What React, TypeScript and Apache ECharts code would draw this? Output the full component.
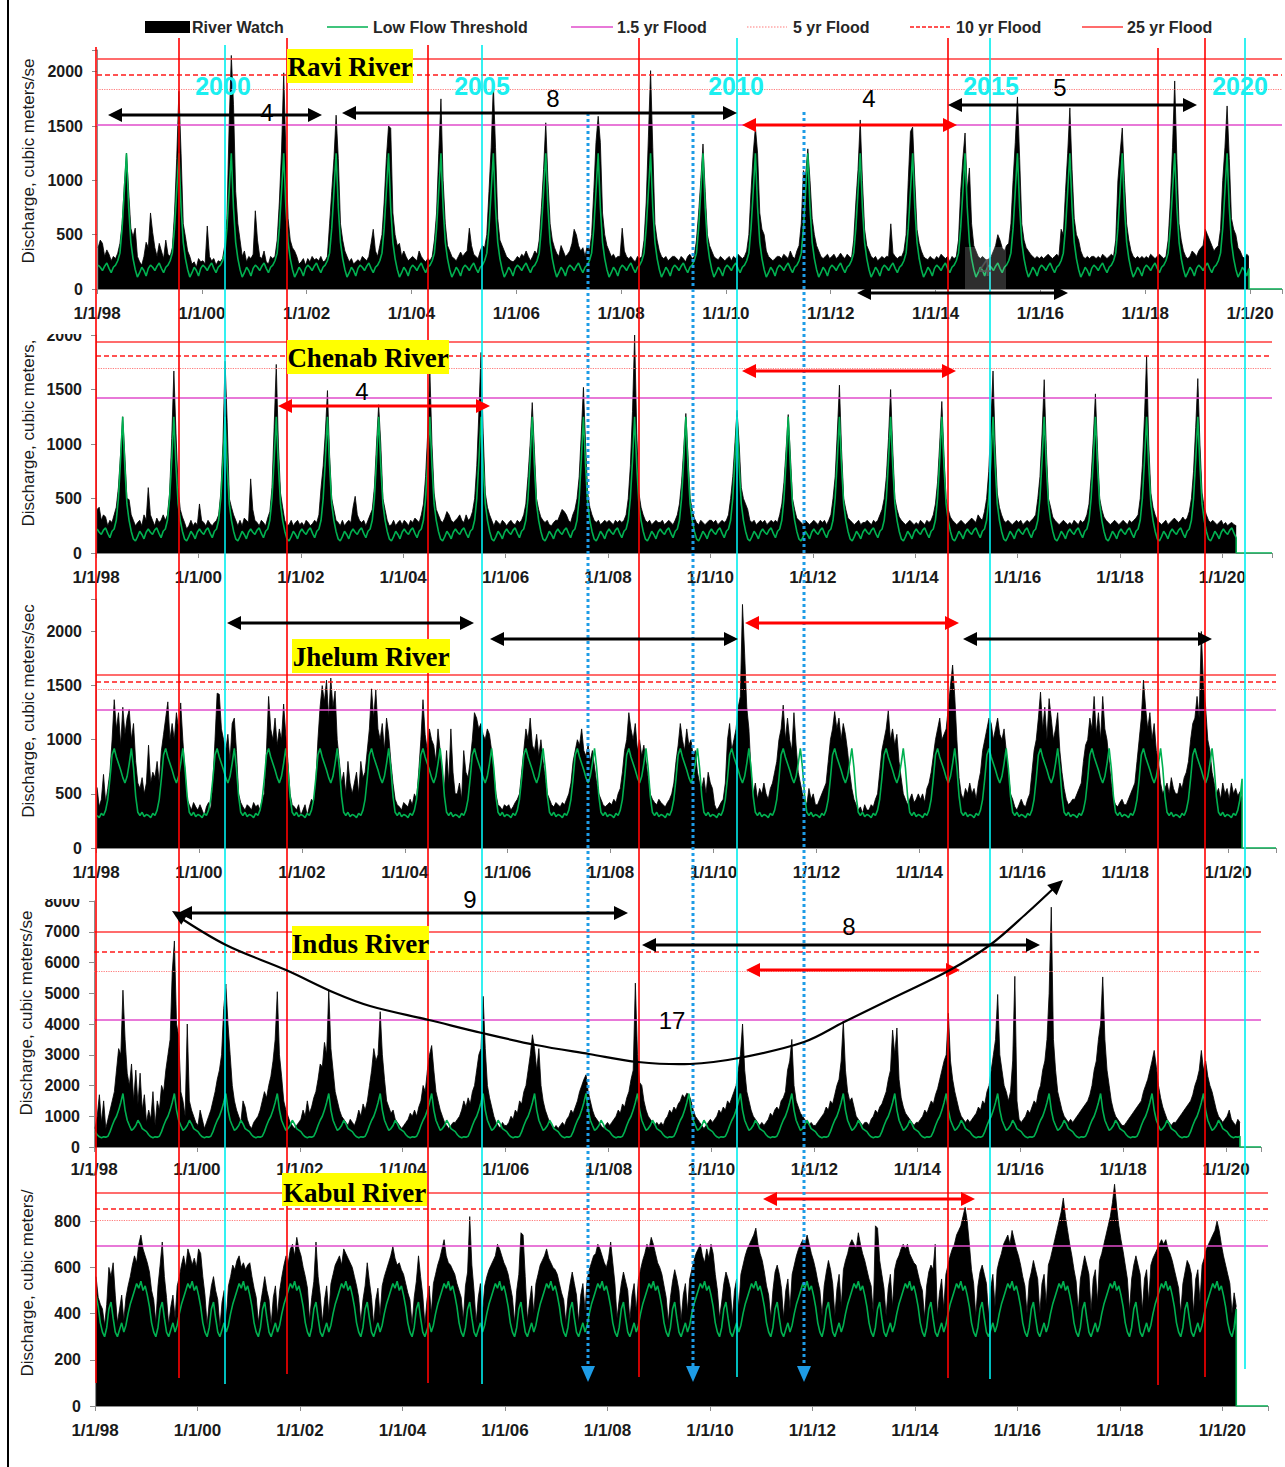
import React, { useEffect, useRef } from "react";
import * as echarts from "echarts";

// ---------- DATA (semi-monthly values, 24 per year, starting Jan 1998) ----------
const FIRST_YEAR = 1998;
const STEPS_PER_YEAR = 24;

const legendLabels = ["River Watch", "Low Flow Threshold", "1.5 yr Flood", "5 yr Flood", "10 yr Flood", "25 yr Flood"];

// flood thresholds: [1.5 yr, 5 yr, 10 yr, 25 yr]
const raviFloods = [1510, 1842, 1970, 2118];
const chenabFloods = [1422, 1697, 1807, 1936];
const jhelumFloods = [1280, 1464, 1538, 1602];
const indusFloods = [4140, 5730, 6350, 7000];
const kabulFloods = [692, 804, 856, 921];

// low flow threshold (one year, repeats every year)
const raviThreshold = [220, 200, 170, 210, 240, 190, 150, 200, 220, 260, 330, 560, 900, 1250, 750, 430, 280, 180, 110, 150, 200, 170, 120, 190];
const chenabThreshold = [220, 190, 170, 210, 230, 180, 140, 200, 220, 300, 500, 850, 1250, 800, 450, 300, 200, 130, 110, 150, 200, 170, 130, 190];
const jhelumThreshold = [300, 280, 320, 300, 350, 450, 640, 860, 920, 840, 780, 720, 650, 600, 660, 780, 920, 740, 480, 330, 300, 330, 290, 310];
const indusThreshold = [500, 400, 330, 300, 330, 320, 350, 500, 700, 870, 1000, 1200, 1450, 1740, 1200, 870, 700, 540, 600, 700, 870, 750, 600, 550];
const kabulThreshold = [480, 430, 360, 320, 300, 340, 420, 450, 380, 320, 300, 330, 360, 320, 350, 400, 440, 470, 500, 530, 510, 540, 500, 520];

const raviFlow = [
  [380, 450, 420, 300, 360, 320, 260, 300, 280, 330, 420, 600, 950, 1250, 900, 560, 480, 560, 300, 250, 220, 300, 430, 380],
  [700, 520, 380, 300, 420, 350, 280, 450, 320, 300, 380, 700, 1200, 1820, 1250, 600, 480, 350, 300, 230, 250, 200, 280, 250],
  [260, 230, 580, 300, 260, 280, 220, 260, 250, 280, 400, 650, 1500, 2150, 1700, 900, 600, 450, 300, 350, 250, 300, 280, 320],
  [720, 450, 300, 280, 350, 250, 230, 300, 280, 300, 450, 800, 1270, 1990, 1250, 650, 450, 380, 350, 300, 230, 250, 280, 220],
  [280, 250, 300, 270, 280, 260, 300, 250, 260, 300, 600, 900, 1200, 1600, 1200, 600, 450, 350, 300, 250, 280, 230, 250, 270],
  [250, 300, 280, 260, 300, 420, 550, 350, 300, 400, 500, 800, 1200, 1500, 1480, 700, 500, 400, 420, 300, 350, 300, 260, 280],
  [300, 280, 260, 350, 300, 270, 250, 280, 260, 300, 450, 700, 1250, 1750, 1000, 600, 400, 350, 300, 280, 260, 300, 340, 300],
  [330, 350, 560, 400, 320, 300, 280, 350, 400, 380, 500, 900, 1300, 1880, 1300, 650, 450, 400, 350, 300, 280, 260, 250, 270],
  [300, 280, 320, 300, 350, 300, 260, 300, 350, 320, 450, 750, 1100, 1530, 1000, 600, 450, 380, 330, 300, 400, 350, 300, 320],
  [350, 420, 550, 500, 400, 350, 380, 300, 400, 350, 500, 900, 1350, 1590, 1350, 700, 500, 400, 350, 300, 320, 280, 300, 300],
  [560, 350, 300, 280, 300, 270, 250, 300, 280, 300, 450, 800, 1400, 2010, 1300, 600, 450, 350, 300, 280, 300, 260, 280, 300],
  [300, 280, 260, 300, 280, 250, 300, 320, 280, 300, 450, 700, 1000, 1335, 900, 500, 400, 350, 300, 280, 270, 300, 280, 260],
  [280, 300, 260, 300, 280, 320, 300, 280, 300, 350, 500, 900, 1250, 1490, 1250, 700, 550, 500, 350, 300, 280, 260, 280, 300],
  [300, 280, 320, 300, 280, 350, 300, 280, 350, 400, 600, 1090, 1050, 1290, 1000, 650, 500, 400, 350, 300, 280, 300, 320, 280],
  [300, 320, 280, 300, 330, 300, 280, 320, 300, 280, 450, 800, 1100, 1556, 1000, 550, 400, 350, 300, 280, 300, 260, 280, 300],
  [280, 300, 300, 600, 330, 300, 280, 300, 300, 350, 500, 1000, 1450, 1490, 1000, 550, 420, 350, 300, 280, 270, 300, 280, 270],
  [300, 280, 320, 300, 280, 300, 250, 300, 280, 300, 450, 900, 1200, 1436, 900, 1114, 600, 400, 350, 300, 280, 300, 280, 260],
  [280, 300, 350, 400, 500, 450, 380, 350, 400, 420, 600, 1000, 1350, 1768, 1200, 600, 450, 380, 350, 320, 300, 280, 300, 280],
  [300, 280, 300, 320, 300, 280, 300, 320, 300, 550, 500, 900, 1250, 1667, 1100, 650, 500, 450, 350, 300, 280, 300, 280, 300],
  [300, 280, 300, 280, 320, 300, 280, 300, 320, 300, 450, 1000, 1250, 1482, 1000, 600, 450, 350, 300, 280, 300, 280, 300, 280],
  [300, 280, 320, 300, 280, 300, 320, 300, 280, 300, 450, 800, 1300, 1915, 1200, 600, 450, 350, 300, 280, 300, 350, 330, 300],
  [350, 380, 400, 550, 500, 450, 400, 350, 380, 400, 550, 1000, 1300, 1685, 1200, 650, 550, 500, 380, 350, 300, 280, 320, 300],
].flat();

const chenabFlow = [
  [400, 420, 300, 350, 330, 250, 300, 280, 350, 420, 600, 900, 1250, 900, 500, 490, 350, 300, 250, 280, 300, 250, 350, 300],
  [600, 350, 300, 250, 320, 280, 300, 350, 300, 350, 550, 1050, 1670, 1100, 600, 400, 330, 280, 220, 250, 300, 250, 280, 260],
  [450, 300, 280, 250, 300, 270, 250, 280, 300, 350, 550, 1000, 1760, 1200, 500, 420, 350, 300, 250, 300, 250, 320, 300, 280],
  [680, 400, 300, 280, 250, 300, 280, 250, 320, 380, 600, 1150, 1730, 1000, 550, 420, 300, 250, 260, 300, 250, 280, 300, 260],
  [280, 250, 300, 280, 250, 270, 300, 280, 350, 600, 800, 1100, 1490, 900, 500, 400, 300, 280, 250, 300, 250, 280, 300, 280],
  [420, 520, 350, 300, 280, 300, 250, 300, 350, 400, 600, 1000, 1360, 1000, 500, 400, 300, 250, 260, 300, 250, 280, 300, 260],
  [300, 280, 250, 300, 280, 320, 300, 280, 350, 450, 700, 1100, 1680, 1000, 550, 400, 350, 300, 280, 320, 380, 350, 300, 280],
  [300, 320, 350, 300, 280, 350, 300, 320, 380, 500, 800, 1300, 1840, 1100, 550, 420, 350, 300, 250, 300, 280, 260, 300, 280],
  [250, 280, 300, 270, 260, 300, 280, 300, 350, 450, 700, 1000, 1380, 950, 500, 400, 330, 300, 280, 300, 260, 250, 280, 300],
  [300, 350, 400, 380, 350, 300, 280, 350, 400, 500, 700, 1100, 1520, 1000, 550, 420, 350, 300, 280, 300, 260, 280, 300, 280],
  [300, 280, 260, 300, 280, 300, 280, 300, 350, 500, 800, 1300, 2000, 1100, 550, 420, 350, 300, 280, 300, 260, 280, 300, 280],
  [280, 300, 260, 280, 300, 280, 260, 300, 350, 450, 650, 950, 1280, 900, 500, 400, 320, 280, 260, 300, 280, 260, 280, 300],
  [300, 280, 300, 260, 280, 300, 280, 300, 350, 500, 700, 1000, 1310, 1000, 600, 500, 450, 400, 300, 280, 300, 260, 280, 300],
  [280, 300, 260, 280, 300, 280, 300, 280, 350, 450, 650, 950, 1270, 900, 500, 400, 320, 300, 280, 260, 300, 280, 260, 280],
  [300, 280, 260, 300, 280, 300, 260, 300, 350, 500, 700, 1100, 1540, 950, 500, 400, 320, 300, 280, 260, 280, 300, 260, 280],
  [280, 300, 280, 260, 300, 280, 300, 350, 400, 500, 700, 1050, 1500, 950, 500, 400, 330, 300, 280, 260, 280, 300, 280, 260],
  [280, 260, 300, 280, 260, 300, 280, 300, 350, 450, 650, 1000, 1390, 900, 500, 400, 330, 300, 280, 260, 280, 300, 280, 260],
  [280, 300, 320, 300, 280, 350, 320, 300, 380, 500, 750, 1200, 1670, 1000, 550, 420, 350, 300, 280, 300, 280, 260, 280, 300],
  [280, 300, 260, 280, 300, 280, 300, 320, 350, 500, 700, 1100, 1590, 950, 500, 420, 330, 300, 280, 260, 280, 300, 280, 260],
  [280, 260, 300, 280, 260, 300, 280, 300, 350, 450, 700, 1050, 1460, 950, 500, 400, 330, 300, 280, 260, 280, 300, 280, 260],
  [280, 300, 280, 260, 300, 280, 300, 320, 350, 500, 800, 1250, 1810, 1000, 550, 420, 350, 300, 280, 260, 280, 300, 260, 280],
  [300, 320, 300, 280, 300, 330, 300, 320, 380, 500, 750, 1150, 1600, 1000, 550, 420, 350, 300, 280, 300, 280, 260, 280, 300],
  [260, 280, 250, 270, 280, 260, 250],
].flat();

const jhelumFlow = [
  [560, 380, 450, 680, 420, 550, 700, 1000, 1370, 1100, 1250, 950, 1300, 1050, 1200, 1280, 1000, 1150, 800, 600, 550, 650, 500, 600],
  [950, 600, 700, 650, 800, 600, 900, 1050, 1200, 1350, 1000, 1150, 1000, 1250, 1100, 1340, 1000, 700, 450, 400, 350, 420, 380, 350],
  [400, 350, 300, 380, 420, 350, 600, 1000, 1430, 1420, 1100, 1000, 900, 1050, 800, 1150, 1200, 900, 500, 420, 380, 350, 400, 380],
  [350, 420, 380, 400, 350, 450, 500, 900, 1400, 1100, 1000, 1200, 950, 1100, 1000, 1330, 1050, 800, 500, 400, 380, 350, 400, 300],
  [350, 400, 300, 380, 450, 420, 600, 1000, 1300, 1500, 1350, 1550, 1200, 1570, 1300, 1450, 1000, 800, 600, 700, 500, 800, 600, 500],
  [600, 700, 500, 800, 650, 700, 900, 1100, 1470, 1200, 1460, 1100, 1000, 1150, 900, 1200, 1050, 800, 600, 450, 400, 380, 350, 420],
  [400, 380, 450, 400, 500, 450, 700, 1000, 1370, 1050, 900, 1100, 1000, 950, 800, 1100, 900, 700, 550, 900, 600, 1100, 700, 500],
  [500, 600, 450, 900, 700, 650, 800, 1000, 1250, 1200, 1100, 1150, 1050, 1000, 1100, 1050, 900, 700, 500, 400, 380, 350, 400, 380],
  [400, 350, 380, 420, 450, 500, 700, 900, 1100, 1000, 1200, 950, 900, 1050, 850, 1000, 800, 650, 500, 450, 400, 380, 420, 400],
  [380, 420, 400, 450, 500, 600, 800, 900, 1000, 950, 1100, 900, 850, 950, 800, 900, 750, 600, 500, 450, 400, 380, 400, 420],
  [400, 450, 420, 500, 550, 700, 900, 1000, 1250, 1100, 1000, 1150, 900, 1000, 850, 950, 800, 650, 500, 450, 420, 400, 450, 420],
  [400, 380, 420, 450, 500, 600, 800, 950, 1150, 1000, 900, 1100, 950, 1000, 850, 900, 700, 600, 550, 650, 500, 700, 600, 550],
  [400, 350, 380, 420, 450, 600, 1000, 1150, 900, 1000, 1100, 1300, 1400, 2250, 1800, 1300, 1100, 700, 500, 600, 450, 550, 500, 600],
  [500, 450, 550, 600, 700, 800, 1000, 1100, 1320, 1000, 1200, 1000, 900, 1250, 950, 700, 600, 500, 450, 400, 550, 450, 500, 400],
  [400, 450, 500, 550, 600, 800, 1000, 1100, 1260, 1100, 1200, 1000, 1150, 1050, 900, 700, 550, 450, 400, 350, 380, 320, 400, 350],
  [350, 400, 380, 450, 500, 700, 900, 1000, 1100, 1270, 1000, 1100, 950, 1050, 800, 650, 500, 450, 400, 450, 500, 420, 450, 500],
  [450, 500, 420, 550, 600, 700, 850, 1000, 1100, 1200, 1000, 1050, 1100, 1300, 1500, 1690, 1400, 1000, 650, 500, 450, 550, 500, 600],
  [500, 550, 450, 600, 700, 900, 1000, 1100, 1200, 1150, 1000, 1100, 1200, 1050, 1000, 1100, 900, 700, 500, 450, 380, 350, 400, 450],
  [400, 380, 450, 500, 700, 900, 1000, 1200, 1440, 1100, 1300, 1000, 1380, 1200, 1000, 1100, 1250, 900, 700, 550, 450, 400, 420, 450],
  [450, 500, 550, 600, 800, 950, 1000, 1200, 1100, 1400, 1050, 1250, 1000, 1400, 1100, 1000, 800, 600, 450, 400, 380, 420, 450, 400],
  [400, 450, 500, 550, 600, 800, 1000, 1200, 1550, 1300, 1100, 1250, 1000, 1150, 900, 800, 600, 500, 550, 600, 500, 650, 550, 500],
  [500, 600, 550, 650, 700, 800, 1000, 1150, 1200, 1400, 1200, 2000, 1500, 1300, 1000, 900, 700, 600, 500, 550, 450, 600, 500, 550],
  [450, 600, 500, 550, 480, 520, 450],
].flat();

const indusFlow = [
  [600, 1000, 1700, 800, 1500, 600, 900, 1200, 1500, 1800, 2500, 3200, 3000, 5100, 3500, 2400, 2000, 2700, 1500, 2500, 1400, 2400, 1200, 1700],
  [800, 1200, 900, 1800, 700, 1500, 1200, 2000, 1800, 2500, 3000, 3500, 5700, 6700, 4000, 3600, 1800, 1500, 1000, 4000, 1500, 1200, 1000, 800],
  [700, 1200, 900, 600, 800, 1000, 1200, 1500, 1800, 2200, 2500, 3000, 4500, 5300, 4000, 3000, 2000, 1500, 1200, 1000, 800, 1500, 1300, 900],
  [700, 600, 800, 900, 1000, 1200, 1500, 1800, 1600, 2000, 2300, 2800, 3500, 5050, 3000, 2300, 1500, 1200, 1000, 800, 700, 600, 700, 800],
  [900, 1200, 1000, 1500, 1100, 1300, 1600, 1800, 2200, 2700, 2600, 3400, 3000, 5100, 3200, 2500, 1800, 1500, 1200, 1000, 900, 800, 700, 900],
  [800, 700, 900, 1200, 1000, 1400, 1200, 1500, 2000, 2500, 3200, 2800, 3000, 4400, 3000, 2200, 1500, 1300, 1100, 1200, 900, 800, 700, 600],
  [700, 800, 900, 1100, 1000, 1200, 1000, 1300, 1500, 2000, 1800, 2500, 3000, 3300, 2500, 1800, 1500, 1200, 1000, 800, 700, 600, 700, 800],
  [800, 900, 1000, 1200, 1500, 1300, 1600, 1400, 1800, 2000, 2500, 3000, 3200, 4900, 3200, 2000, 1600, 1300, 1000, 800, 700, 600, 800, 700],
  [700, 800, 1000, 900, 1200, 1100, 1500, 1400, 1800, 2000, 2500, 3000, 3650, 3200, 2500, 3200, 2000, 1500, 1200, 1000, 800, 700, 600, 700],
  [600, 700, 800, 700, 900, 1000, 1200, 1100, 1300, 1500, 1800, 2000, 2200, 2350, 1800, 1500, 1200, 1000, 900, 800, 700, 600, 700, 800],
  [700, 800, 900, 1000, 1200, 1100, 1400, 1300, 1600, 1800, 2200, 2500, 5330, 3000, 2100, 2000, 1500, 1200, 1000, 900, 800, 700, 800, 700],
  [800, 700, 900, 1000, 1200, 1100, 1300, 1200, 1400, 1500, 1700, 1600, 1750, 1700, 1500, 1200, 1000, 900, 800, 700, 600, 700, 800, 900],
  [800, 900, 1000, 1200, 1100, 1300, 1200, 1500, 1400, 1600, 1800, 2000, 2500, 3000, 4000, 2500, 1800, 1500, 1200, 1000, 900, 800, 700, 800],
  [700, 800, 900, 1100, 1000, 1200, 1300, 1200, 1500, 1600, 1800, 2500, 2800, 3500, 2000, 1500, 1300, 1100, 1000, 900, 800, 700, 800, 700],
  [700, 800, 900, 1000, 1100, 1300, 1200, 1500, 1400, 1700, 2000, 2200, 2800, 4100, 2500, 1800, 1500, 1600, 1300, 1000, 900, 800, 700, 800],
  [800, 700, 900, 1000, 1200, 1100, 1300, 1400, 1600, 1800, 2200, 2500, 3800, 3000, 3870, 2200, 1600, 1300, 1100, 1000, 900, 800, 700, 800],
  [800, 900, 1000, 1200, 1100, 1300, 1500, 1400, 1700, 1900, 2200, 2500, 2800, 3000, 4350, 2800, 2200, 1800, 1500, 1200, 1000, 900, 800, 900],
  [800, 900, 1000, 1100, 1300, 1200, 1500, 1400, 1800, 2000, 2500, 3000, 3500, 4960, 3000, 2500, 2000, 1800, 1500, 1800, 2800, 5550, 1500, 900],
  [800, 900, 1000, 1200, 1100, 1300, 1500, 1400, 1800, 2000, 2500, 2800, 3500, 5000, 7800, 3500, 2500, 1800, 1500, 1200, 1000, 900, 800, 900],
  [800, 900, 1000, 1100, 1200, 1300, 1400, 1500, 1700, 2000, 2500, 2800, 3500, 4000, 5530, 3500, 2500, 2000, 1500, 1200, 1000, 900, 800, 700],
  [700, 800, 900, 1000, 1100, 1200, 1300, 1400, 1500, 1800, 2000, 2200, 2500, 2800, 3140, 2600, 2000, 1600, 1300, 1100, 900, 800, 700, 800],
  [800, 900, 1000, 1100, 1200, 1300, 1400, 1500, 1700, 2000, 2200, 2500, 3140, 2500, 2800, 2300, 2000, 1800, 1500, 1200, 1000, 900, 800, 900],
  [1000, 1200, 900, 800, 700, 900, 800],
].flat();

const kabulFlow = [
  [560, 470, 440, 420, 350, 440, 600, 560, 620, 480, 360, 420, 480, 370, 470, 520, 560, 610, 650, 620, 700, 740, 680, 650],
  [620, 580, 500, 460, 360, 520, 610, 710, 560, 470, 350, 430, 480, 380, 520, 560, 610, 650, 600, 680, 650, 610, 640, 600],
  [680, 660, 560, 480, 350, 450, 520, 560, 500, 460, 340, 450, 500, 380, 520, 560, 610, 590, 630, 650, 600, 620, 590, 610],
  [620, 560, 510, 470, 360, 440, 500, 560, 500, 460, 350, 470, 520, 390, 500, 560, 610, 650, 620, 680, 700, 650, 730, 680],
  [650, 600, 560, 510, 370, 470, 540, 710, 560, 480, 360, 460, 520, 400, 530, 570, 610, 630, 650, 610, 680, 660, 640, 620],
  [600, 560, 520, 470, 360, 460, 520, 620, 540, 470, 350, 460, 510, 390, 520, 560, 590, 620, 650, 690, 640, 610, 620, 590],
  [570, 530, 490, 460, 350, 470, 540, 650, 560, 480, 350, 460, 520, 400, 530, 570, 610, 640, 680, 720, 650, 620, 610, 590],
  [570, 530, 500, 470, 370, 520, 580, 820, 610, 500, 360, 470, 530, 400, 520, 560, 590, 610, 630, 650, 700, 680, 650, 620],
  [600, 570, 520, 470, 360, 500, 570, 750, 740, 560, 370, 450, 520, 400, 530, 570, 610, 630, 650, 680, 640, 620, 600, 590],
  [570, 530, 490, 460, 360, 470, 530, 580, 530, 480, 360, 480, 530, 410, 550, 590, 620, 650, 660, 700, 680, 650, 620, 600],
  [640, 710, 620, 530, 380, 460, 530, 580, 540, 500, 370, 480, 530, 410, 550, 590, 630, 660, 700, 680, 730, 700, 660, 620],
  [600, 570, 520, 470, 360, 470, 540, 590, 550, 500, 370, 480, 530, 410, 550, 590, 630, 660, 680, 700, 650, 620, 680, 640],
  [700, 660, 570, 500, 380, 450, 530, 580, 550, 510, 380, 500, 550, 420, 570, 610, 650, 680, 700, 720, 740, 770, 700, 660],
  [630, 580, 520, 480, 380, 500, 580, 610, 570, 510, 380, 500, 550, 420, 570, 610, 650, 680, 700, 720, 700, 740, 700, 660],
  [630, 590, 540, 500, 390, 520, 580, 630, 590, 530, 390, 510, 570, 430, 590, 630, 660, 700, 720, 700, 680, 750, 700, 660],
  [630, 590, 550, 520, 400, 780, 770, 630, 570, 510, 390, 510, 570, 430, 590, 630, 650, 680, 700, 680, 700, 660, 640, 620],
  [610, 570, 530, 500, 380, 520, 580, 610, 590, 700, 390, 490, 550, 420, 570, 610, 650, 680, 700, 740, 760, 780, 820, 860],
  [800, 700, 590, 530, 390, 520, 580, 610, 570, 530, 390, 510, 570, 430, 590, 630, 660, 700, 720, 740, 700, 760, 720, 680],
  [650, 610, 560, 520, 400, 540, 580, 630, 590, 550, 400, 530, 570, 440, 610, 640, 680, 720, 760, 800, 840, 900, 820, 760],
  [700, 650, 590, 540, 410, 550, 600, 650, 610, 570, 410, 550, 590, 450, 630, 660, 700, 740, 780, 820, 880, 960, 860, 780],
  [720, 670, 610, 550, 410, 550, 610, 650, 610, 570, 410, 550, 590, 450, 610, 640, 660, 680, 700, 720, 700, 720, 680, 660],
  [630, 590, 550, 510, 400, 530, 580, 630, 610, 570, 400, 550, 590, 450, 610, 640, 680, 700, 720, 740, 760, 800, 760, 700],
  [650, 610, 570, 530, 400, 490, 430],
].flat();

// ---------- LAYOUT ----------
const panels = [
  { flow: raviFlow, thr: raviThreshold, floods: raviFloods, ymax: 2200, interval: 500, left: 97, top: 50, width: 1185, height: 239, xmax: 2020.61 },
  { flow: chenabFlow, thr: chenabThreshold, floods: chenabFloods, ymax: 2000, interval: 500, left: 96, top: 335, width: 1176, height: 218, xmax: 2020.97 },
  { flow: jhelumFlow, thr: jhelumThreshold, floods: jhelumFloods, ymax: 2300, interval: 500, left: 96, top: 599, width: 1180, height: 249, xmax: 2020.93 },
  { flow: indusFlow, thr: indusThreshold, floods: indusFloods, ymax: 8000, interval: 1000, left: 94, top: 901, width: 1167, height: 246, xmax: 2020.68 },
  { flow: kabulFlow, thr: kabulThreshold, floods: kabulFloods, ymax: 1000, interval: 200, left: 95, top: 1175, width: 1173, height: 231, xmax: 2020.89, hideMax: true },
];

const riverTitles = [
  { text: "Ravi River", x: 287, y: 49, w: 126, h: 34, ty: 67 },
  { text: "Chenab River", x: 287, y: 340, w: 162, h: 34, ty: 358 },
  { text: "Jhelum River", x: 292, y: 639, w: 158, h: 34, ty: 657 },
  { text: "Indus River", x: 292, y: 926, w: 137, h: 34, ty: 944 },
  { text: "Kabul River", x: 282, y: 1173, w: 145, h: 33, ty: 1193 },
];

const yTitles = [
  { text: "Discharge, cubic meters/se", x: 28, y: 161 },
  { text: "Discharge, cubic meters,", x: 28, y: 433 },
  { text: "Discharge, cubic meters/sec", x: 28, y: 711 },
  { text: "Discharge, cubic meters/se", x: 26, y: 1013 },
  { text: "Discharge, cubic meters/", x: 27, y: 1283 },
];

const redVerticals = [[96, 47, 1383], [179, 38, 1378], [287, 38, 1374], [428, 45, 1383], [639, 38, 1377], [948, 38, 1378], [1158, 48, 1385], [1205, 38, 1377]];
const cyanVerticals = [[225, 45, 1384], [482, 45, 1384], [737, 38, 1377], [990, 38, 1379], [1245, 38, 1369]];
const blueDotted = [[588, 113], [693, 115], [804, 112]];
const yearLabels = [["2000", 223], ["2005", 482], ["2010", 736], ["2015", 991], ["2020", 1240]];

const blackArrows = [[108, 322, 115], [342, 737, 113], [948, 1197, 105], [857, 1068, 293], [227, 474, 623], [490, 738, 639], [963, 1212, 639], [178, 628, 913], [642, 1040, 945]];
const redArrows = [[742, 957, 125], [278, 490, 406], [742, 956, 371], [745, 959, 623], [746, 960, 970], [763, 975, 1199]];
const notes = [["4", 267, 112], ["8", 553, 98], ["4", 869, 98], ["5", 1060, 87], ["4", 362, 391], ["9", 470, 899], ["8", 849, 926], ["17", 672, 1020]];
const curvePts = [[176, 915], [226, 945], [286, 970], [335, 993], [370, 1006], [429, 1020], [482, 1033], [536, 1045], [589, 1054], [638, 1062], [690, 1064], [739, 1058], [804, 1042], [844, 1022], [893, 998], [950, 970], [990, 945], [1027, 913], [1055, 887]];

const SANS = "'Liberation Sans', Arial, sans-serif";
const floodStyles = [
  { color: "#E14CCB", width: 1.6, type: "solid" },
  { color: "#FF7C7C", width: 1.2, type: "dotted" },
  { color: "#FF1A1A", width: 1.5, type: [5, 3] },
  { color: "#FF3B3B", width: 1.6, type: "solid" },
];

const stepX = (i: number) => FIRST_YEAR + (i + 0.5) / STEPS_PER_YEAR;

function flowPoints(flow: number[]) {
  return flow.map((v, i) => [stepX(i), v]);
}
function thresholdPoints(thr: number[], n: number, xmax: number) {
  const pts: number[][] = [];
  for (let i = 0; i < n; i++) pts.push([stepX(i), thr[i % STEPS_PER_YEAR]]);
  const lastX = pts[pts.length - 1][0];
  pts.push([lastX, 0], [xmax, 0]);
  return pts;
}

function triangle(tip: number[], dir: number[], color: string, len = 14, half = 7) {
  const n = Math.hypot(dir[0], dir[1]);
  const ux = dir[0] / n, uy = dir[1] / n;
  const bx = tip[0] - ux * len, by = tip[1] - uy * len;
  return {
    type: "polygon", z: 120,
    shape: { points: [tip, [bx - uy * half, by + ux * half], [bx + uy * half, by - ux * half]] },
    style: { fill: color },
  };
}

function doubleArrow(x1: number, x2: number, y: number, color: string) {
  return [
    { type: "line", z: 120, shape: { x1: x1 + 12, y1: y, x2: x2 - 12, y2: y }, style: { stroke: color, lineWidth: 3 } },
    triangle([x1, y], [-1, 0], color),
    triangle([x2, y], [1, 0], color),
  ];
}

function text(t: string, x: number, y: number, font: string, fill: string, extra: any = {}) {
  return {
    type: "text", x, y, z: 130, ...extra,
    style: { text: t, font, fill, textAlign: "center", textVerticalAlign: "middle", align: "center", verticalAlign: "middle" },
  };
}

function buildGraphics() {
  const els: any[] = [];
  // frame
  els.push({ type: "line", z: 90, shape: { x1: 8, y1: 0, x2: 8, y2: 1467 }, style: { stroke: "#000", lineWidth: 2 } });
  // legend
  const ly = 27;
  const lfont = `bold 16px ${SANS}`;
  const leftText = (t: string, x: number) => ({
    type: "text", x, y: ly, z: 130,
    style: { text: t, font: lfont, fill: "#262626", textAlign: "left", textVerticalAlign: "middle", align: "left", verticalAlign: "middle" },
  });
  els.push({ type: "rect", z: 130, shape: { x: 145, y: 21, width: 45, height: 12 }, style: { fill: "#000" } });
  els.push(leftText(legendLabels[0], 192));
  els.push({ type: "line", z: 130, shape: { x1: 327, y1: ly, x2: 368, y2: ly }, style: { stroke: "#00B050", lineWidth: 1.5 } });
  els.push(leftText(legendLabels[1], 373));
  els.push({ type: "line", z: 130, shape: { x1: 571, y1: ly, x2: 613, y2: ly }, style: { stroke: floodStyles[0].color, lineWidth: 1.5 } });
  els.push(leftText(legendLabels[2], 617));
  els.push({ type: "line", z: 130, shape: { x1: 747, y1: ly, x2: 787, y2: ly }, style: { stroke: floodStyles[1].color, lineWidth: 1.2, lineDash: [1.5, 1.5] } });
  els.push(leftText(legendLabels[3], 793));
  els.push({ type: "line", z: 130, shape: { x1: 910, y1: ly, x2: 952, y2: ly }, style: { stroke: floodStyles[2].color, lineWidth: 1.5, lineDash: [4, 2] } });
  els.push(leftText(legendLabels[4], 956));
  els.push({ type: "line", z: 130, shape: { x1: 1082, y1: ly, x2: 1123, y2: ly }, style: { stroke: floodStyles[3].color, lineWidth: 1.5 } });
  els.push(leftText(legendLabels[5], 1127));

  // clip the partially hidden top tick labels
  els.push({ type: "rect", z: 95, shape: { x: 40, y: 324, width: 52, height: 10 }, style: { fill: "#fff" } });
  els.push({ type: "rect", z: 95, shape: { x: 40, y: 886, width: 52, height: 13 }, style: { fill: "#fff" } });

  // y titles
  yTitles.forEach((t) => els.push(text(t.text, t.x, t.y, `17px ${SANS}`, "#1a1a1a", { rotation: Math.PI / 2 })));

  // vertical markers
  redVerticals.forEach(([x, y1, y2]) => els.push({ type: "line", z: 100, shape: { x1: x, y1, x2: x, y2 }, style: { stroke: "#FF0000", lineWidth: 1.6 } }));
  cyanVerticals.forEach(([x, y1, y2]) => els.push({ type: "line", z: 100, shape: { x1: x, y1, x2: x, y2 }, style: { stroke: "#00EEEE", lineWidth: 1.6 } }));
  blueDotted.forEach(([x, y1]) => {
    els.push({ type: "line", z: 110, shape: { x1: x, y1, x2: x, y2: 1368 }, style: { stroke: "#1E9CE6", lineWidth: 3, lineDash: [3, 3] } });
    els.push(triangle([x, 1382], [0, 1], "#1E9CE6", 16, 7));
  });

  // ghost patch in the Ravi panel
  els.push({ type: "rect", z: 105, shape: { x: 965, y: 247, width: 41, height: 42 }, style: { fill: "rgba(255,255,255,0.18)" } });
  els.push(text("4", 985, 267, `24px ${SANS}`, "rgba(90,90,90,0.9)"));

  // titles
  riverTitles.forEach((t) => {
    els.push({ type: "rect", z: 115, shape: { x: t.x, y: t.y, width: t.w, height: t.h }, style: { fill: "#FFFF00" } });
    els.push(text(t.text, t.x + t.w / 2, t.ty, `bold 27px 'Liberation Serif', 'Times New Roman', serif`, "#000"));
  });

  // year labels
  yearLabels.forEach(([t, x]) => els.push(text(t as string, x as number, 86, `bold 25px ${SANS}`, "#1BEFF0")));

  // arrows
  blackArrows.forEach(([a, b, y]) => els.push(...doubleArrow(a, b, y, "#000")));
  redArrows.forEach(([a, b, y]) => els.push(...doubleArrow(a, b, y, "#FF0000")));

  // curve
  els.push({ type: "polyline", z: 120, shape: { points: curvePts, smooth: 0.35 }, style: { stroke: "#000", lineWidth: 2.2, fill: null } });
  els.push(triangle([172, 911], [-50, -30], "#000", 15, 7));
  els.push(triangle([1063, 880], [36, -33], "#000", 15, 7));

  notes.forEach(([t, x, y]) => els.push(text(t as string, x as number, y as number, `24px ${SANS}`, "#000")));
  return els;
}

function buildOption() {
  const grid = panels.map((p) => ({ left: p.left, top: p.top, width: p.width, height: p.height }));
  const xAxis = panels.map((p, i) => ({
    type: "value", gridIndex: i, min: FIRST_YEAR, max: p.xmax, interval: 2,
    axisLine: { show: true, onZero: false, lineStyle: { color: "#8C8C8C", width: 1 } },
    axisTick: { show: true, length: 5, lineStyle: { color: "#8C8C8C" } },
    splitLine: { show: false },
    axisLabel: {
      margin: i === 3 ? 14 : 16, color: "#1a1a1a", fontSize: 17, fontWeight: "bold", fontFamily: SANS,
      formatter: (v: number) => {
        const r = Math.round(v);
        if (Math.abs(v - r) > 1e-6 || r % 2 !== 0) return "";
        return `1/1/${String(r % 100).padStart(2, "0")}`;
      },
    },
  }));
  const yAxis = panels.map((p, i) => ({
    type: "value", gridIndex: i, min: 0, max: p.ymax, interval: p.interval,
    axisLine: { show: true, lineStyle: { color: "#8C8C8C", width: 1 } },
    axisTick: { show: true, length: 5, lineStyle: { color: "#8C8C8C" } },
    splitLine: { show: false },
    axisLabel: {
      margin: 14, color: "#1a1a1a", fontSize: 16, fontWeight: "bold", fontFamily: SANS,
      formatter: (v: number) => {
        if (v % p.interval !== 0) return "";
        if (p.hideMax && v >= p.ymax) return "";
        return String(v);
      },
    },
  }));
  const series: any[] = [];
  panels.forEach((p, i) => {
    series.push({
      name: legendLabels[0], type: "line", xAxisIndex: i, yAxisIndex: i, z: 2,
      data: flowPoints(p.flow), symbol: "none", showSymbol: false,
      lineStyle: { color: "#000", width: 0.8 }, areaStyle: { color: "#000", opacity: 1 },
    });
    series.push({
      name: legendLabels[1], type: "line", xAxisIndex: i, yAxisIndex: i, z: 3,
      data: thresholdPoints(p.thr, p.flow.length, p.xmax), symbol: "none", showSymbol: false,
      lineStyle: { color: "#00B050", width: 1.6 },
      markLine: {
        silent: true, symbol: ["none", "none"], label: { show: false }, animation: false,
        data: p.floods.map((v, k) => ({ yAxis: v, lineStyle: floodStyles[k] })),
      },
    });
  });
  return {
    animation: false,
    backgroundColor: "#fff",
    grid, xAxis, yAxis, series,
    graphic: { elements: buildGraphics() },
  };
}

export default function App() {
  const ref = useRef<HTMLDivElement>(null);
  useEffect(() => {
    if (!ref.current) return;
    const chart = echarts.init(ref.current, null, { renderer: "svg" });
    chart.setOption(buildOption() as any);
    return () => chart.dispose();
  }, []);
  return <div ref={ref} style={{ position: "absolute", left: 0, top: 0, width: 1285, height: 1467, background: "#fff" }} />;
}
